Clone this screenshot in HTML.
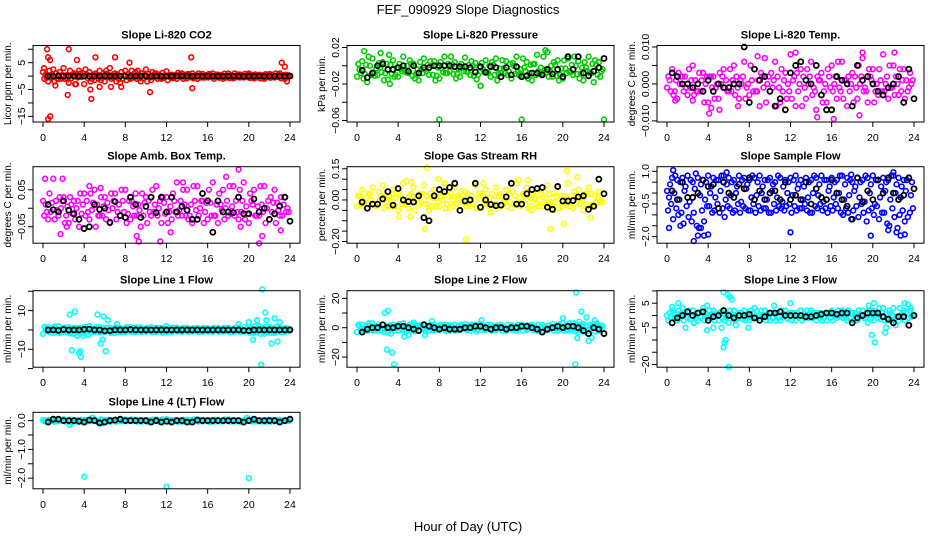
<!DOCTYPE html>
<html><head><meta charset="utf-8"><style>
html,body{margin:0;padding:0;background:#fff;}
svg{display:block;font-family:"Liberation Sans",Arial,sans-serif;}
</style></head><body>
<svg id="chart" width="936" height="540" viewBox="0 0 936 540" xmlns="http://www.w3.org/2000/svg">
<text x="468" y="14" text-anchor="middle" font-size="13">FEF_090929  Slope Diagnostics</text>
<text x="468" y="531" text-anchor="middle" font-size="13">Hour of Day (UTC)</text>
</svg>
<script>
const xTicks=[0,4,8,12,16,20,24];
// CO2
const co2A=[1.5,-2,2.5,-1,3,-2.5,1,2,-3,1.5,-1.5,2,-2,3,1,-2.5,2,-1,1.5,-2,2.5,-1.5,1,-1,1.8,0.5,-1,1,-0.8,1,-1,0.8,-0.5,1,0.5,-1,1,-0.8,0.6,-0.5,1,-0.8,0.5,-1,0.8,-0.5,1,-1];
const co2B=[-1,2,-2,1.5,-1,2,-3,1,2.5,-2,1,-1.5,2,-1,-2,1.5,-1.5,2,-1,1,-2,1.5,-1,1.2,-1.5,-0.8,1.2,-1,0.8,-0.8,1,-0.6,0.8,-1,-0.6,0.9,-0.7,1,-0.5,0.8,-0.7,0.6,-0.8,0.7,-0.6,1,-0.8,0.5];
const co2C=[0.5,-0.5,1,-1,0.3,-0.8,0.8,-0.3,0.6,-1,0.4,-0.6,0.9,-0.4,0.5,-0.9,0.7,-0.5,0.4,-0.7,0.8,-0.4,0.5,-0.6,0.3,-0.4,0.5,-0.3,0.4,-0.5,0.3,-0.4,0.5,-0.3,0.4,-0.5,0.3,-0.4,0.5,-0.3,0.4,-0.5,0.3,-0.4,0.5,-0.3,0.4,-0.2];
const co2D=[-0.6,0.7,-0.9,0.4,-1.2,0.6,-0.5,1.1,-0.8,0.5,-0.9,1,-0.4,0.8,-1.1,0.3,-0.6,1,-0.8,0.5,-0.5,0.9,-0.7,0.3,-0.5,0.4,-0.3,0.5,-0.4,0.3,-0.5,0.4,-0.3,0.5,-0.4,0.3,-0.5,0.4,-0.3,0.5,-0.4,0.3,-0.5,0.4,-0.3,0.5,-0.4,0.3];
const co2Out=[[0.4,10],[0.5,7],[0.7,6],[0.5,-16],[0.7,-15],[2.4,-7],[2.5,10],[3.3,6],[4.6,-5],[4.7,-8.5],[5.1,7],[7,7],[8.4,5],[10.4,-6],[14.4,7],[14.5,-4.5],[23.2,5],[23.5,3.5],[23.7,-2],[0.1,3],[1.2,-3.5],[3.2,-3],[5.5,-4],[6.6,-4],[7.6,-4],[9.2,2]];
const co2Black=[0,0,0.1,0,0,0,0,0,0,0,0,0.1,0,0,0,0,0,0,0,0,0,0,0,0,0,0,0.1,0,0,0,0,0,0,0,0,0,0,0,0,0,0,0,0,0,0,0,0,0];
// Pressure
const presA=[-0.012,0.005,-0.018,0.008,-0.01,0.004,-0.015,0.006,-0.012,0.01,-0.008,0.002,-0.016,0.008,-0.01,0.005,-0.014,0.01,-0.006,0.004,-0.012,0.009,-0.01,0.003,-0.022,0.006,-0.012,0.008,-0.008,0.005,-0.014,0.01,-0.01,0.004,-0.016,0.012,-0.008,0.015,-0.012,0.006,-0.014,0.008,-0.01,0.005,-0.016,0.01,-0.018,0.004];
const presB=[0.002,-0.014,0.01,-0.008,0.003,-0.016,0.012,-0.012,0.002,-0.006,0.006,-0.014,0.004,-0.004,0.005,-0.016,0.004,-0.008,0.01,-0.014,0.002,-0.006,0.005,-0.015,0.003,-0.008,0.004,-0.016,0.006,-0.01,0.003,-0.006,0.008,-0.014,0.002,-0.006,0.01,-0.012,0.004,-0.016,0.006,-0.006,0.01,-0.014,0.004,-0.008,0.006,-0.012];
const presC=[-0.004,-0.009,0,-0.011,-0.002,-0.008,0.001,-0.01,-0.003,-0.007,0.002,-0.009,-0.004,-0.006,0,-0.011,-0.003,-0.008,0.001,-0.009,-0.002,-0.007,0,-0.01,-0.004,-0.008,0.001,-0.009,-0.003,-0.006,0,-0.01,-0.002,-0.008,0.002,-0.009,-0.004,-0.006,0.001,-0.01,-0.003,-0.007,0,-0.009,-0.002,-0.008,0.001,-0.006];
const presD=[-0.008,0.001,-0.01,-0.003,-0.007,0.002,-0.009,-0.002,-0.006,0,-0.011,-0.004,-0.008,0.001,-0.01,-0.002,-0.007,0.002,-0.009,-0.003,-0.006,0.001,-0.011,-0.002,-0.007,0,-0.01,-0.003,-0.008,0.002,-0.009,-0.004,-0.006,0.001,-0.01,-0.002,-0.007,0,-0.011,-0.003,-0.008,0.001,-0.009,-0.002,-0.006,0.002,-0.01,-0.004];
const presOut=[[8,-0.059],[16,-0.059],[24,-0.059],[0.7,0.016],[18.3,0.017],[2.3,0.014],[12,-0.022],[3.2,-0.02]];
const presBlack=[-0.005,-0.013,-0.008,0,0.002,-0.004,-0.004,-0.002,0,-0.006,0,-0.008,-0.002,-0.002,0,0,0,0,-0.001,-0.001,-0.001,-0.002,-0.007,-0.001,-0.007,-0.001,-0.002,-0.012,-0.002,-0.01,-0.001,-0.012,-0.011,-0.008,-0.008,-0.01,-0.004,-0.009,-0.004,-0.012,0.01,-0.004,0.01,-0.008,-0.011,-0.006,-0.002,0.008];
// Li-820 Temp
const ltA=[-0.001,0.004,-0.004,0.002,-0.003,0.005,-0.002,0.003,-0.005,0.002,-0.004,0.004,-0.002,0.005,-0.004,0.006,-0.003,0.004,-0.006,0.007,-0.002,0.006,-0.005,0.003,0.008,-0.006,0.004,-0.004,0.006,-0.007,0.003,-0.005,0.005,-0.004,0.006,-0.006,0.003,-0.004,0.007,-0.005,0.004,-0.003,0.008,-0.004,0.005,-0.003,0.004,-0.001];
const ltB=[0.002,-0.003,0.003,-0.002,0.004,-0.003,0.003,-0.005,0.002,-0.004,0.003,-0.001,0.004,-0.003,0.001,-0.004,0.005,-0.002,0.003,-0.005,0.003,-0.006,0.004,-0.004,-0.004,0.003,-0.006,0.004,-0.003,0.002,-0.005,0.004,-0.002,0.006,-0.004,0.002,-0.005,0.005,-0.002,0.004,-0.005,0.004,-0.002,0.005,-0.003,0.004,-0.004,0.003];
const ltC=[0.001,-0.002,0,0.002,-0.001,0.001,-0.002,0,0.002,-0.001,0,0.001,-0.002,0.002,0,-0.001,0.001,-0.002,0.002,0,-0.001,0.002,-0.002,0,0.001,-0.002,0.002,0,-0.001,0.001,-0.002,0.002,0,-0.001,0.001,-0.002,0.002,0,-0.001,0.002,-0.002,0.001,0,-0.001,0.002,-0.002,0.001,0];
const ltD=[-0.002,0.001,0.002,-0.001,0.001,-0.002,0.001,0.002,-0.001,0,0.002,-0.002,0.001,-0.001,0.002,0,-0.002,0.001,-0.001,0.002,0.001,-0.001,0.001,-0.002,0.002,0,-0.001,0.002,-0.002,0.001,0,-0.001,0.002,-0.002,0.001,0,-0.001,0.002,-0.002,0.001,0,-0.002,0.002,-0.001,0,0.001,-0.002,0.001];
const ltOut=[[4.1,-0.008],[4.3,-0.0065],[5.1,-0.007],[6.9,-0.006],[8.8,0.0075],[12.5,0.0085],[14.6,-0.009],[16.2,-0.0095],[18.7,-0.0085],[19,0.0085],[22.1,0.0085],[0.8,-0.0045],[2.5,-0.0045]];
const ltBlack=[0.003,0.002,0,0,-0.001,0,-0.002,0.001,-0.002,0,-0.001,-0.001,0,0,0.01,-0.005,0.004,0.001,0.002,-0.002,-0.006,-0.004,-0.007,0.003,0.005,0.006,0.001,0,0.005,-0.003,-0.007,-0.007,0.002,0.001,0,-0.006,0.005,0.001,0.002,0,-0.002,-0.003,-0.001,0,0.002,-0.005,0.004,-0.004];
// Amb box temp
const abA=[0.02,-0.03,0.08,-0.02,0.03,-0.04,0.02,-0.05,0.04,-0.03,0.05,-0.02,0.03,-0.04,0.04,-0.02,0.05,-0.03,0.04,-0.05,0.03,-0.02,0.06,-0.04,0.03,-0.03,0.07,-0.02,0.05,-0.04,0.06,0.02,-0.03,0.07,-0.04,0.05,-0.02,0.06,-0.03,0.07,-0.04,0.05,-0.02,0.06,-0.03,0.05,-0.02,0.03];
const abB=[-0.02,0.04,-0.03,0.03,-0.04,0.03,-0.03,0.04,-0.02,0.04,-0.05,0.03,-0.03,0.04,-0.03,0.05,-0.04,0.02,-0.02,0.04,-0.04,0.05,-0.02,0.03,-0.04,0.04,-0.02,0.05,-0.03,0.06,-0.02,-0.04,0.05,-0.02,0.04,-0.03,0.06,-0.02,0.05,-0.03,0.04,-0.02,0.06,-0.04,0.03,-0.04,0.03,-0.01];
const abC=[0.01,-0.01,0.02,0,-0.02,0.01,0,-0.015,0.02,-0.005,0.01,-0.02,0.015,0,-0.01,0.02,-0.015,0.005,0.01,-0.02,0.02,-0.01,0,0.015,-0.01,0.02,-0.005,0.01,-0.02,0.02,0,-0.01,0.015,-0.02,0.01,0,-0.015,0.02,-0.01,0.005,0.02,-0.02,0.01,0,-0.01,0.015,-0.02,0];
const abD=[-0.01,0.015,-0.005,0.02,0.005,-0.015,0.02,0.01,-0.01,0.015,-0.02,0.005,-0.005,0.02,0.01,-0.01,0.02,-0.02,-0.005,0.015,-0.01,0.01,0.02,-0.015,0.005,-0.01,0.02,-0.02,0.01,-0.005,0.02,0.015,-0.02,0.01,-0.005,0.02,0.005,-0.01,0.02,-0.015,0.01,0.005,-0.01,0.02,0.015,-0.005,0.01,-0.01];
const abOut=[[0.2,0.08],[1.7,-0.07],[1.9,0.08],[4.5,0.06],[5.6,0.055],[9.1,-0.075],[9.3,-0.09],[11.4,-0.09],[12.4,-0.065],[13.6,0.07],[17.8,0.085],[19,0.105],[21,-0.095],[21.3,-0.075],[23.1,-0.06],[19.2,-0.05],[2.3,-0.05]];
const abBlack=[0.01,-0.004,-0.01,0.02,-0.005,-0.015,-0.03,-0.055,-0.05,0.01,-0.003,0,-0.038,0.018,-0.02,-0.025,0.03,0.01,-0.025,0.005,0.03,-0.012,0.03,-0.01,0.03,-0.01,0.005,-0.005,-0.03,-0.03,0.04,0.02,-0.065,0.02,-0.01,-0.01,-0.012,0.03,-0.015,-0.015,0.025,-0.01,0,-0.03,-0.015,0.006,0.03,-0.035];
// RH
const rhA=[-0.03,0.05,-0.04,0.06,-0.02,0.07,-0.03,0.05,-0.05,0.08,-0.04,0.06,-0.02,0.07,-0.05,0.05,-0.03,0.08,-0.04,0.06,-0.05,0.04,-0.03,0.07,-0.04,0.05,-0.06,0.06,-0.03,0.05,-0.04,0.08,-0.02,0.06,-0.05,0.04,-0.03,0.07,-0.05,0.06,-0.03,0.08,-0.04,0.05,-0.05,0.06,-0.03,0.04];
const rhB=[0.02,-0.03,0.03,-0.02,0.04,-0.04,0.02,-0.03,0.03,-0.02,0.02,-0.05,0.03,-0.02,0.03,-0.03,0.02,-0.04,0.03,-0.02,0.04,-0.03,0.02,-0.04,0.03,-0.02,0.03,-0.04,0.02,-0.03,0.04,-0.02,0.03,-0.04,0.02,-0.03,0.04,-0.02,0.03,-0.04,0.02,-0.03,0.04,-0.02,0.03,-0.03,0.02,-0.01];
const rhC=[0.02,-0.01,0.03,-0.02,0,0.02,-0.03,0.01,0.02,-0.02,0.03,0,-0.01,0.02,-0.03,0.01,0.03,-0.02,0,0.02,-0.01,0.03,-0.02,0.01,0.02,-0.03,0,0.02,-0.01,0.03,-0.02,0.01,0.02,-0.03,0.01,0,-0.02,0.03,-0.01,0.02,0,-0.03,0.02,0.01,-0.02,0.03,-0.01,0];
const rhD=[-0.02,0.01,0,-0.03,0.02,-0.01,0.01,0.03,-0.02,0,-0.01,0.02,0.03,-0.02,0.01,-0.01,0,0.02,-0.03,0.01,0.02,-0.02,0,0.03,-0.01,0.01,-0.02,0.03,0,-0.01,0.02,-0.03,0,0.01,-0.02,0.03,0.01,-0.01,0.02,-0.03,0.01,0.02,-0.01,0,0.03,-0.02,0.01,-0.01];
const rhOut=[[4.1,-0.08],[4.8,0.09],[5.3,0.085],[5.2,-0.08],[6.8,0.155],[6.6,-0.14],[7.9,0.1],[10.6,-0.19],[12.3,0.08],[15.7,0.095],[16.6,0.095],[18.8,-0.14],[20.4,0.14],[20.1,-0.115],[21.4,0.11],[22.7,-0.085]];
const rhBlack=[-0.01,-0.04,-0.02,-0.02,0.005,0.04,-0.025,0.055,0,-0.008,-0.01,0.02,-0.085,-0.1,0.02,0.05,0.04,0.06,0.08,-0.05,-0.005,0,0.08,-0.035,0,-0.022,-0.028,-0.025,0.015,0.08,-0.02,-0.02,0.03,0.05,0.055,0.06,-0.035,-0.045,0.065,-0.005,-0.005,-0.003,0.015,0.02,-0.045,-0.03,0.1,0.03];
// Sample flow
const sfA=[0.1,0.7,0.6,0.7,0.8,0.5,0.7,0.6,0.8,0.7,0.6,0.8,0.7,0.6,0.8,0.7,0.6,0.7,0.8,0.6,0.7,0.5,0.7,0.6,0.7,0.8,0.6,0.7,0.6,0.7,0.8,0.6,0.7,0.6,0.8,0.7,0.5,0.7,0.6,0.7,0.8,0.6,0.7,0.6,0.8,0.7,0.6,0.7];
const sfB=[-0.8,-1.2,-1.0,-1.4,-1.1,-0.9,-1.6,-1.3,-0.6,-0.8,-0.9,-1.1,-0.7,-0.8,-0.9,-0.7,-0.8,-0.9,-0.8,-0.7,-0.9,-0.8,-0.7,-0.6,-0.9,-0.8,-0.7,-0.8,-0.9,-0.7,-0.8,-0.9,-0.8,-0.7,-1.0,-0.9,-0.8,-1.1,-0.9,-0.8,-1.0,-1.2,-0.9,-1.5,-1.1,-1.0,-1.3,-0.9];
const sfC=[-0.2,0,-0.3,0.1,-0.4,0.2,-0.1,-0.3,0,-0.2,0.1,-0.3,-0.1,0,-0.4,0.2,-0.2,-0.1,0,-0.3,0.1,-0.2,-0.4,0,-0.1,0.2,-0.3,-0.2,0,-0.1,-0.4,0.1,-0.2,0,-0.3,-0.1,0.1,-0.2,-0.4,0,-0.5,-0.2,0.1,-0.3,0,-0.2,0.1,-0.1];
const sfD=[0.4,0.8,0.5,0.3,0.6,0.9,0.4,0.5,0.3,0.6,0.8,0.4,0.5,0.3,0.6,0.4,0.8,0.5,0.3,0.6,0.4,0.8,0.3,0.5,0.6,0.4,0.3,0.5,0.8,0.4,0.6,0.3,0.5,0.8,0.4,0.6,0.3,0.5,0.8,0.4,0.6,0.3,0.5,0.8,0.4,0.3,0.6,0.5];
const sfE=[-0.5,-0.7,-0.9,-0.6,-1.3,-1.5,-0.8,-0.6,-0.9,-0.5,-0.7,-0.6,-0.9,-0.5,-0.6,-0.8,-0.5,-0.6,-0.7,-0.9,-0.5,-0.6,-0.8,-0.5,-0.6,-0.7,-0.5,-0.9,-0.6,-0.5,-0.7,-0.6,-0.5,-0.9,-0.7,-1.2,-0.6,-0.5,-1.3,-0.7,-0.6,-0.9,-1.4,-0.7,-1.6,-0.8,-1.1,-0.7];
const sfOut=[[0.6,1.05],[0.2,-1.6],[1.3,-1.5],[2.6,-2.2],[3.0,-1.95],[3.3,-1.6],[3.6,-1.95],[4,-1.9],[12,-1.8],[19.8,-1.95],[21.5,-1.7],[22.3,-1.8],[22.7,-1.95],[23.1,-1.9],[22.0,0.95],[5.8,0.95],[17.9,0.85]];
const sfBlack=[0.1,-0.3,0.5,-0.2,-0.2,0,0.6,0.3,0.4,-0.7,0.5,0,-0.2,0.4,0.2,0.7,-0.3,0.1,-0.3,0,0.1,-0.3,0.5,-0.3,-0.1,-0.3,0.5,-0.5,0.2,-0.2,-0.3,0.6,0,-0.3,-0.6,-1.2,0.7,-0.4,0.1,-0.3,0.6,0,0.7,0,-0.3,-0.1,0.7,0.2];
// Line 1
const l1A=[-2,1.5,-1.5,2,-1,1.5,-2,1,-1.5,2,-1,1.5,-1,1.2,-1.5,1,-1,1.5,-1,1.2,-1,1.5,-1,1,2,-1,1.2,-1,1,-0.8,1,-1,0.8,-1,1,-0.8,1,-1,1.2,-1,1.5,-1.5,2,-2,1.5,-1.5,1.5,-1];
const l1B=[1.5,-1,1.8,-1.5,1.2,-1.8,1,-1.5,1.5,-1,1.5,-1.2,1,-1.5,1.2,-1,1.5,-1,1.2,-1,1,-1.2,1,-1.5,-1,1.2,-0.8,1,-1,0.8,-1,1,-0.8,1,-0.8,1,-1,0.8,-1,1.5,-1.5,2,-2,1.5,-1.5,1.5,-1.2,1];
const l1C=[0.5,-0.5,1,-1,0.3,-0.8,0.8,-0.3,0.6,-1,0.4,-0.6,0.9,-0.4,0.5,-0.9,0.7,-0.5,0.4,-0.7,0.8,-0.4,0.5,-0.6,0.3,-0.4,0.5,-0.3,0.4,-0.5,0.3,-0.4,0.5,-0.3,0.4,-0.5,0.3,-0.4,0.5,-0.3,0.8,-0.9,1,-1,0.8,-0.7,0.6,-0.5];
const l1D=[-0.6,0.7,-0.9,0.4,-1.2,0.6,-0.5,1.1,-0.8,0.5,-0.9,1,-0.4,0.8,-1.1,0.3,-0.6,1,-0.8,0.5,-0.5,0.9,-0.7,0.3,-0.5,0.4,-0.3,0.5,-0.4,0.3,-0.5,0.4,-0.3,0.5,-0.4,0.3,-0.5,0.4,-0.3,0.5,-0.9,0.8,-1.1,0.9,-1,0.8,-0.7,0.6];
const l1Out=[[2.6,8],[3.1,9.5],[2.8,-10.5],[3.3,-3],[3.5,-12],[3.6,-11],[3.7,-14],[5.3,8],[5.6,-7],[5.8,-5],[5.9,7],[6.1,-11],[6.3,5],[7.2,3],[19,3],[20,4],[20.4,-5],[20.8,5],[21.2,-18],[21.3,21],[21.6,9],[22.2,-7],[22.5,6],[22.8,-6],[23,4],[21.7,5],[3.9,-3],[4.4,-2.5]];
const l1Black=[0,0,-0.2,0.2,0,0,0,0.3,0.4,0,0,-0.5,-0.4,0,0,0,0.2,0,0,0,0,0,0,0,0,0,0,0,0,0,0,0,0,0,0,0,0,0,-0.3,-0.4,0,0,0,0,0,0,0,0];
// Line 2
const l2A=[-3,2,-2,3,-2,2,-3,2,-2,3,-1.5,2,-2,2.5,-2,2,-1.5,2,-2,2,-1.5,2.5,-2,2,2.5,-1.5,2,-1.5,2,-2,1.5,-2,2,-1.5,2,-2,2,-1.5,2.5,-2,3,-2,3,-3,2.5,-2,2,-2];
const l2B=[2,-2,3,-2,2,-3,1.5,-2,2.5,-2,2,-2.5,1.5,-2,2,-1.5,2,-2,1.5,-2,2,-1.5,2,-2.5,-1.5,2,-2,1.5,-2,2,-1.5,2,-2,1.5,-1.5,2,-2,1.5,-2,2.5,-2,3,-2.5,2,-3,2,-2.5,1.5];
const l2C=[1,-1,1.5,-1.5,0.5,-1,1.2,-0.5,1,-1.5,0.6,-1,1.4,-0.6,0.8,-1.3,1,-0.8,0.6,-1,1.2,-0.6,0.8,-1,0.5,-0.6,0.8,-0.5,0.6,-0.8,0.5,-0.6,0.8,-0.5,0.6,-0.8,0.5,-0.6,0.8,-0.5,1.2,-1.4,1.5,-1.5,1.2,-1,1,-0.8];
const l2D=[-1,1,-1.4,0.6,-1.8,1,-0.8,1.6,-1.2,0.8,-1.4,1.5,-0.6,1.2,-1.6,0.5,-1,1.5,-1.2,0.8,-0.8,1.4,-1,0.5,-0.8,0.6,-0.5,0.8,-0.6,0.5,-0.8,0.6,-0.5,0.8,-0.6,0.5,-0.8,0.6,-0.5,0.8,-1.4,1.2,-1.6,1.4,-1.5,1.2,-1,1];
const l2Out=[[2.7,10],[3.0,11.5],[2.9,-15],[3.4,-17],[3.6,-25],[3.3,-4],[5,-5],[5.5,3.5],[6.6,-5],[7.3,4.5],[12.1,5],[20,6.5],[21.2,-25],[21.3,24],[21.4,-7],[21.6,4],[21.8,11],[22.3,7],[22.5,-9],[22.8,-7],[23.1,5],[23.3,3],[4.6,-6]];
const l2Black=[-3,-1,0,0,2,0,0,1,1,0,-1,-2,2,1,0,-1,0,-1,-1,-1,0,0,1,1,0,-1,0,0,-1,0,0,1,1,0,-1,-3,-1,0,1,0,1,1,0,-2,-4,0,-1,-4];
// Line 3
const l3A=[0,2,-2,3,-1,2,-2,3,-1,2,-2,1,-3,2,-1,2,-2,3,-1,2,-2,1,-2,2,1,-2,2,-1,2,-2,1,-2,2,-1,2,-2,1,-2,2,-3,2,-1,3,-2,3,-2,2,-1];
const l3B=[-2,1,2,-2,2,-3,1,-2,2,-2,1,-2,2,-2,1,-2,2,-1,2,-2,1,-2,2,-1,-2,1,-2,2,-1,1,-2,1,-2,2,-1,2,-2,2,-1,2,-2,3,-2,2,-2,3,-2,2];
const l3C=[1,-1,0,1.5,-1.5,0.5,-0.5,1,-1,0,1.5,-1,0.5,-1.5,1,0,-1,1.5,-0.5,0.5,-1,1,0,-1.5,1,-0.5,0.5,-1,1,0,-1,0.5,1,-0.5,0,-1,1,0.5,-1,0,1,-1.5,0.5,1,-1,0,1.5,-0.5];
const l3D=[-1,0.5,1,-0.5,0,-1,1.5,-0.5,0.5,1,-1,0.5,-0.5,1,-1.5,0.5,1,-1,0,-0.5,1,-1,0.5,1,-0.5,0,-1,1,-0.5,0.5,1,-1,0,0.5,-1,1,-0.5,0,1,-1,0.5,1,-1,0,-0.5,1,-1,0.5];
const l3Out=[[0.5,3.5],[1.1,5],[1.8,-5],[2.6,-3],[3.9,-6],[3.9,4],[4.5,-5],[5.3,-5],[5.5,9.5],[5.9,8.5],[6.1,7.5],[6.3,6.5],[5.5,-13],[5.6,-11],[5.7,-10],[6,-21],[6.7,-4],[7.9,-5],[10.4,4],[12,5],[19.6,4],[20.1,5],[19.9,-8],[20.2,-11],[21.3,-5],[21.2,-7],[22.2,-4],[23.1,5],[23.4,4.5],[23.7,3]];
const l3Black=[-3,-1,0,1.5,0,1,1.5,-2,-0.5,0,2,0,-1,0,0,0.5,-1,-2,-0.5,1,1,1.5,0,0,0,0,-0.5,-0.5,0,0.5,1,1,0.5,1,1,-3,-1,0,1,1,1,-0.5,-1.5,-3,-0.5,-0.5,-4,0];
// Line 4
const l4A=[0.02,-0.03,0.04,-0.02,0.05,-0.03,0.02,-0.04,0.03,-0.02,0.04,-0.03,0.02,-0.04,0.03,-0.02,0.04,-0.02,0.03,-0.04,0.02,-0.03,0.04,-0.02,0.05,-0.03,0.02,-0.04,0.03,-0.02,0.04,-0.03,0.02,-0.04,0.03,-0.02,0.04,-0.03,0.02,-0.04,0.05,-0.03,0.02,-0.04,0.03,-0.02,0.03,-0.02];
const l4B=[-0.02,0.03,-0.04,0.03,-0.03,0.04,-0.02,0.03,-0.04,0.03,-0.02,0.04,-0.03,0.02,-0.04,0.03,-0.02,0.04,-0.03,0.02,-0.04,0.03,-0.02,0.04,-0.03,0.02,-0.04,0.03,-0.02,0.04,-0.03,0.02,-0.04,0.03,-0.02,0.04,-0.03,0.02,-0.04,0.03,-0.02,0.04,-0.03,0.02,-0.04,0.03,-0.02,0.03];
const l4C=[0,0.01,-0.01,0.02,-0.02,0,0.01,-0.01,0.02,0,-0.02,0.01,0,-0.01,0.02,-0.02,0.01,0,-0.01,0.02,0,-0.02,0.01,0,0.02,-0.01,0,0.01,-0.02,0.02,0,-0.01,0.01,0,-0.02,0.02,0.01,-0.01,0,0.02,-0.02,0.01,0,-0.01,0.02,0,-0.01,0.01];
const l4D=[0.01,0,-0.02,0.01,0,-0.01,0.02,0,-0.01,0.01,0,-0.02,0.02,0,-0.01,0.01,0,0.02,-0.02,0,0.01,-0.01,0,0.02,-0.01,0.01,0,-0.02,0.01,0,0.02,-0.01,0,0.01,-0.02,0,0.01,0.02,-0.01,0,0.01,-0.02,0,0.02,-0.01,0.01,0,-0.01];
const l4Out=[[4,-1.95],[12,-2.3],[20,-2.0],[2.6,-0.15],[4.8,0.1],[5.7,-0.1],[19.8,0.1],[2.8,-0.05]];
const l4Black=[-0.05,0.05,0.05,0,0,0,-0.02,-0.05,0.02,0,-0.08,-0.05,0,0.02,0.05,0,0,0,0,0,-0.05,0,-0.05,-0.02,-0.05,0,0,-0.05,-0.05,0.02,0,0,0,0,0,0,0,0,-0.05,0,0.05,0,0,0,0,-0.05,0,0.05];

const panels=[
 {name:'co2',title:'Slope Li-820 CO2',ylab:'Licor ppm per min.',col:'#ff0000',c:0,r:0,ymin:-17.1,ymax:11.4,ticks:[-15,-10,-5,0,5,10],labels:[-15,-5,5],clouds:[co2A,co2B,co2C,co2D],out:co2Out,black:co2Black},
 {name:'pressure',title:'Slope Li-820 Pressure',ylab:'kPa per min.',col:'#00cd00',c:1,r:0,ymin:-0.0616,ymax:0.0222,ticks:[-0.06,-0.04,-0.02,0,0.02],labels:['-0.06','-0.02','0.02'],clouds:[presA,presB,presC,presD],out:presOut,black:presBlack},
 {name:'li820-temp',title:'Slope Li-820 Temp.',ylab:'degrees C per min.',col:'#ff00ff',c:2,r:0,ymin:-0.0103,ymax:0.0104,ticks:[-0.01,-0.005,0,0.005,0.01],labels:['-0.010','0.000','0.010'],clouds:[ltA,ltB,ltC,ltD],out:ltOut,black:ltBlack},
 {name:'amb-box-temp',title:'Slope Amb. Box Temp.',ylab:'degrees C per min.',col:'#ff00ff',c:0,r:1,ymin:-0.0946,ymax:0.1125,ticks:[-0.05,0,0.05],labels:['-0.05','0.05'],clouds:[abA,abB,abC,abD],out:abOut,black:abBlack},
 {name:'gas-stream-rh',title:'Slope Gas Stream RH',ylab:'percent per min.',col:'#ffff00',c:1,r:1,ymin:-0.208,ymax:0.16,ticks:[-0.2,-0.15,-0.1,-0.05,0,0.05,0.1,0.15],labels:['-0.20','0.00','0.15'],clouds:[rhA,rhB,rhC,rhD],out:rhOut,black:rhBlack},
 {name:'sample-flow',title:'Slope Sample Flow',ylab:'ml/min per min.',col:'#0000ff',c:2,r:1,ymin:-2.3,ymax:1.21,ticks:[-2,-1.5,-1,-0.5,0,0.5,1],labels:['-2.0','-0.5','1.0'],clouds:[sfA,sfB,sfC,sfD,sfE],out:sfOut,black:sfBlack},
 {name:'line1-flow',title:'Slope Line 1 Flow',ylab:'ml/min per min.',col:'#00ffff',c:0,r:2,ymin:-19.3,ymax:20.3,ticks:[-20,-10,0,10,20],labels:[-10,10],clouds:[l1A,l1B,l1C,l1D],out:l1Out,black:l1Black},
 {name:'line2-flow',title:'Slope Line 2 Flow',ylab:'ml/min per min.',col:'#00ffff',c:1,r:2,ymin:-26.9,ymax:25.2,ticks:[-20,-10,0,10,20],labels:[-20,0,20],clouds:[l2A,l2B,l2C,l2D],out:l2Out,black:l2Black},
 {name:'line3-flow',title:'Slope Line 3 Flow',ylab:'ml/min per min.',col:'#00ffff',c:2,r:2,ymin:-21.1,ymax:10.1,ticks:[-20,-15,-10,-5,0,5,10],labels:[-20,-5,5],clouds:[l3A,l3B,l3C,l3D],out:l3Out,black:l3Black},
 {name:'line4-flow',title:'Slope Line 4 (LT) Flow',ylab:'ml/min per min.',col:'#00ffff',c:0,r:3,ymin:-2.37,ymax:0.29,ticks:[-2,-1.5,-1,-0.5,0],labels:['-2.0','-1.0','0.0'],clouds:[l4A,l4B,l4C,l4D],out:l4Out,black:l4Black}
];
const NS='http://www.w3.org/2000/svg';
const svg=document.getElementById('chart');
const colLeft=[33,347,657], rowTop=[45.5,166.7,290.7,412.3], W=267, H=76.5;
function mk(tag,attrs,parent){const e=document.createElementNS(NS,tag);for(const k in attrs)e.setAttribute(k,attrs[k]);parent.appendChild(e);return e;}
panels.forEach(p=>{
  const L=colLeft[p.c], T=rowTop[p.r], B=T+H;
  const g=mk('g',{},svg);
  
  
  const sx=h=>L+10+h*(W-20)/24;
  const sy=v=>T+(p.ymax-v)/(p.ymax-p.ymin)*H;
  const t=mk('text',{x:L+W/2,y:T-7,'text-anchor':'middle','font-size':'11','font-weight':'bold'},g);
  t.textContent=p.title;
  
  
  const yl=mk('text',{transform:`translate(${L-22},${T+H/2}) rotate(-90)`,'text-anchor':'middle','font-size':'10'},g);
  yl.textContent=p.ylab;
  
  
  xTicks.forEach(h=>{
    mk('line',{x1:sx(h),x2:sx(h),y1:B,y2:B+5,stroke:'#000','stroke-width':1},g);
    const tl=mk('text',{x:sx(h),y:B+19,'text-anchor':'middle','font-size':'10.5'},g);
    tl.textContent=h;
    
    
  });
  p.ticks.forEach(v=>{mk('line',{x1:L-5,x2:L,y1:sy(v),y2:sy(v),stroke:'#000','stroke-width':1},g);});
  p.labels.forEach(v=>{
    const yt=mk('text',{transform:`translate(${L-8},${sy(+v)}) rotate(-90)`,'text-anchor':'middle','font-size':'10.5'},g);
    yt.textContent=String(v).replace('-','\u2212');
    
    
  });
  const pts=mk('g',{fill:'none',stroke:p.col,'stroke-width':1.6},g);
  
  
  const n=p.clouds.length;
  p.clouds.forEach((arr,k)=>{
    arr.forEach((v,i)=>{
      const h=i*0.5+k*0.5/n;
      const c=mk('circle',{cx:sx(h),cy:sy(v),r:2.4},pts);
      
      
    });
  });
  p.out.forEach(([h,v])=>{
    const c=mk('circle',{cx:sx(h),cy:sy(v),r:2.4},pts);
    
    
  });
  const bk=mk('g',{fill:'none',stroke:'#000','stroke-width':1.8},g);
  
  
  p.black.forEach((v,i)=>{
    const c=mk('circle',{cx:sx(0.5+i*0.5),cy:sy(v),r:2.5},bk);
    
    
  });
  const box=mk('rect',{x:L,y:T,width:W,height:H,fill:'none',stroke:'#000','stroke-width':1},g);
  
  
});
</script>
</body></html>
